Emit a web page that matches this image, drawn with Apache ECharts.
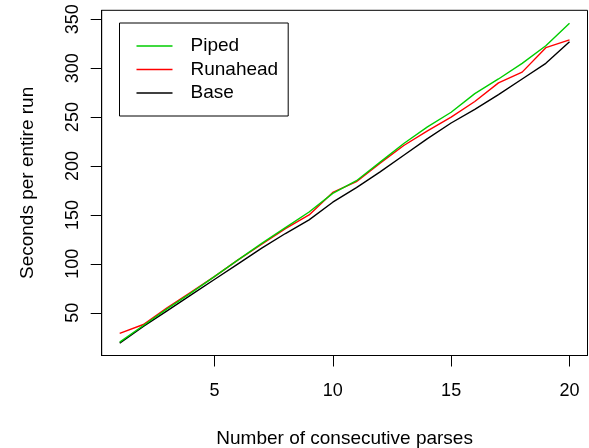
<!DOCTYPE html>
<html>
<head>
<meta charset="utf-8">
<script src="https://cdn.jsdelivr.net/npm/echarts@6/dist/echarts.min.js"></script>
<style>
  html, body { margin: 0; padding: 0; background: #fff; }
  #chart { width: 589px; height: 448px; }
</style>
</head>
<body>
<div id="chart"></div>
<script>
// number of consecutive parses
var parses = [1, 2, 3, 4, 5, 6, 7, 8, 9, 10, 11, 12, 13, 14, 15, 16, 17, 18, 19, 20];
// seconds per entire run
var piped = [20, 37, 54, 70, 87, 104, 121, 137, 153, 172, 185, 204, 223, 240, 255, 274, 289, 305, 323, 346];
var runahead = [29, 38, 55, 71, 87, 104, 120, 136, 150, 173, 184, 203, 221, 236, 250, 266, 285, 296, 321, 329];
var base = [19, 36, 52, 68, 84, 100, 116, 131, 145, 163, 178, 194, 211, 228, 244, 258, 273, 289, 305, 327];

var xTicks = [5, 10, 15, 20];
var yTicks = [50, 100, 150, 200, 250, 300, 350];

var fontFamily = "'Liberation Sans', Arial, Helvetica, sans-serif";

function pairs(ys) {
    return parses.map(function (x, i) { return [x, ys[i]]; });
}

function lineSeries(name, ys, color) {
    return {
        name: name,
        type: "line",
        data: pairs(ys),
        symbol: "none",
        animation: false,
        lineStyle: { color: color, width: 1.4 },
        itemStyle: { color: color }
    };
}

var myChart = echarts.init(document.getElementById("chart"));

var option = {
    backgroundColor: "#fff",
    textStyle: { fontFamily: fontFamily },
    grid: {
        left: 101.7,
        top: 10.3,
        right: 1.5,
        bottom: 92.5,
        show: true,
        borderColor: "#000",
        borderWidth: 1,
        containLabel: false,
        outerBoundsMode: "none"
    },
    legend: {
        data: ["Piped", "Runahead", "Base"],
        orient: "vertical",
        left: 119.5,
        top: 23,
        padding: [13.5, 10, 13.5, 17],
        itemGap: 4.5,
        itemWidth: 36,
        itemHeight: 1.4,
        icon: "rect",
        borderColor: "#000",
        borderWidth: 1,
        selectedMode: false,
        textStyle: {
            fontFamily: fontFamily,
            fontSize: 19,
            lineHeight: 19,
            color: "#000",
            padding: [0, 0, 0, 13]
        }
    },
    xAxis: {
        type: "value",
        min: 0.24,
        max: 20.76,
        name: "Number of consecutive parses",
        nameLocation: "middle",
        nameGap: 74,
        nameTextStyle: { fontSize: 19, color: "#000", fontFamily: fontFamily },
        axisLine: { show: true, lineStyle: { color: "#000", width: 1 } },
        axisTick: { show: true, length: 11, customValues: xTicks, lineStyle: { color: "#000" } },
        axisLabel: { customValues: xTicks, fontSize: 18, color: "#000", margin: 27, fontFamily: fontFamily },
        splitLine: { show: false }
    },
    yAxis: {
        type: "value",
        min: 6.3,
        max: 359.2,
        name: "Seconds per entire run",
        nameLocation: "middle",
        nameRotate: 90,
        nameGap: 64,
        nameTextStyle: { fontSize: 19, color: "#000", fontFamily: fontFamily },
        axisLine: { show: true, lineStyle: { color: "#000", width: 1 } },
        axisTick: { show: true, length: 11, customValues: yTicks, lineStyle: { color: "#000" } },
        axisLabel: { customValues: yTicks, rotate: 90, fontSize: 18, color: "#000", margin: 20, fontFamily: fontFamily },
        splitLine: { show: false }
    },
    series: [
        lineSeries("Base", base, "#000000"),
        lineSeries("Runahead", runahead, "#ff0000"),
        lineSeries("Piped", piped, "#00cd00")
    ]
};

myChart.setOption(option);
</script>
</body>
</html>
